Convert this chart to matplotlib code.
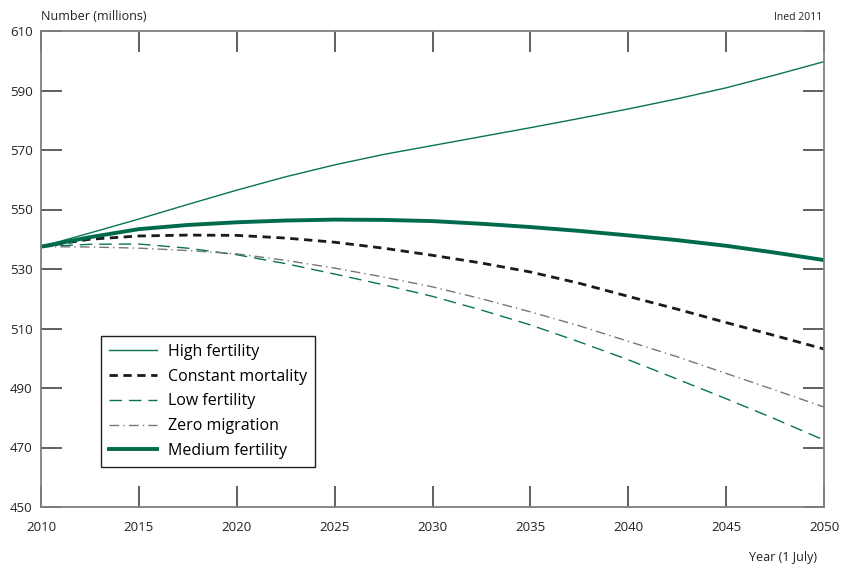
import matplotlib
matplotlib.use("Agg")
import matplotlib.pyplot as plt

years = [2010, 2012.5, 2015, 2017.5, 2020, 2022.5, 2025, 2027.5, 2030,
         2032.5, 2035, 2037.5, 2040, 2042.5, 2045, 2047.5, 2050]
high_fertility = [537.5, 542.1, 546.8, 551.7, 556.5, 561.0, 565.0, 568.5, 571.5,
                  574.5, 577.5, 580.6, 583.8, 587.2, 590.9, 595.2, 599.7]
constant_mortality = [537.5, 540.0, 541.1, 541.4, 541.3, 540.4, 539.0, 537.0, 534.6,
                      532.0, 529.0, 525.2, 520.8, 516.5, 512.0, 507.6, 503.1]
low_fertility = [537.5, 538.3, 538.4, 537.0, 534.8, 531.8, 528.3, 524.7, 520.8,
                 516.2, 511.2, 505.5, 499.5, 493.0, 486.4, 479.6, 472.5]
zero_migration = [537.5, 537.4, 537.0, 536.2, 535.1, 532.9, 530.3, 527.3, 524.0,
                  520.0, 515.6, 510.9, 505.7, 500.5, 494.9, 489.3, 483.6]
medium_fertility = [537.5, 540.7, 543.4, 544.8, 545.7, 546.3, 546.6, 546.5, 546.1,
                    545.2, 544.1, 542.8, 541.3, 539.7, 537.8, 535.5, 533.0]

x_ticks = list(range(2010, 2051, 5))
y_ticks = list(range(450, 611, 20))

GREEN = "#0a7356"
DARK_GREEN = "#006b4c"

plt.rcParams['font.family'] = ['Open Sans', 'DejaVu Sans']

fig = plt.figure(figsize=(8.45, 5.67), dpi=100)
ax = fig.add_axes([41/845, 1-507/567, (824-41)/845, (507-31)/567])

ax.plot(years, high_fertility, color=GREEN, lw=1.0, label="High fertility")
ax.plot(years, constant_mortality, color="#1a1a1a", lw=2.0, ls=(0, (3, 2)), label="Constant mortality")
ax.plot(years, low_fertility, color=GREEN, lw=1.0, ls=(0, (9, 5)), label="Low fertility")
ax.plot(years, zero_migration, color="#777777", lw=1.0, ls=(0, (7, 3, 1, 3)), label="Zero migration")
ax.plot(years, medium_fertility, color=DARK_GREEN, lw=2.8, label="Medium fertility")

ax.set_xlim(2010, 2050)
ax.set_ylim(450, 610)
ax.set_xticks(x_ticks)
ax.set_yticks(y_ticks)
ax.tick_params(axis='both', direction='in', length=15, width=1.2, color="#444444",
               labelsize=9.5, labelcolor="#222222")
ax.tick_params(axis='x', pad=10, top=True)
ax.tick_params(axis='y', pad=6, right=True)
for s in ax.spines.values():
    s.set_color("#808080")
    s.set_linewidth(1.3)

leg = ax.legend(loc='lower left', bbox_to_anchor=((101-41)/783, (507-467)/476),
                fontsize=11.5, frameon=True, fancybox=False, handlelength=3.0,
                borderpad=0.5, labelspacing=0.55, handletextpad=0.7, borderaxespad=0)
leg.get_frame().set_edgecolor("#222222")
leg.get_frame().set_linewidth(1.0)
leg.get_frame().set_alpha(1)

fig.text(41/845, 1-17/567, "Number (millions)", fontsize=9, color="#222222", va='center', ha='left')
fig.text(822/845, 1-17/567, "Ined 2011", fontsize=7.5, color="#222222", va='center', ha='right')
fig.text(817/845, 1-557/567, "Year (1 July)", fontsize=9, color="#222222", va='center', ha='right')

fig.savefig("out.png", dpi=100)
